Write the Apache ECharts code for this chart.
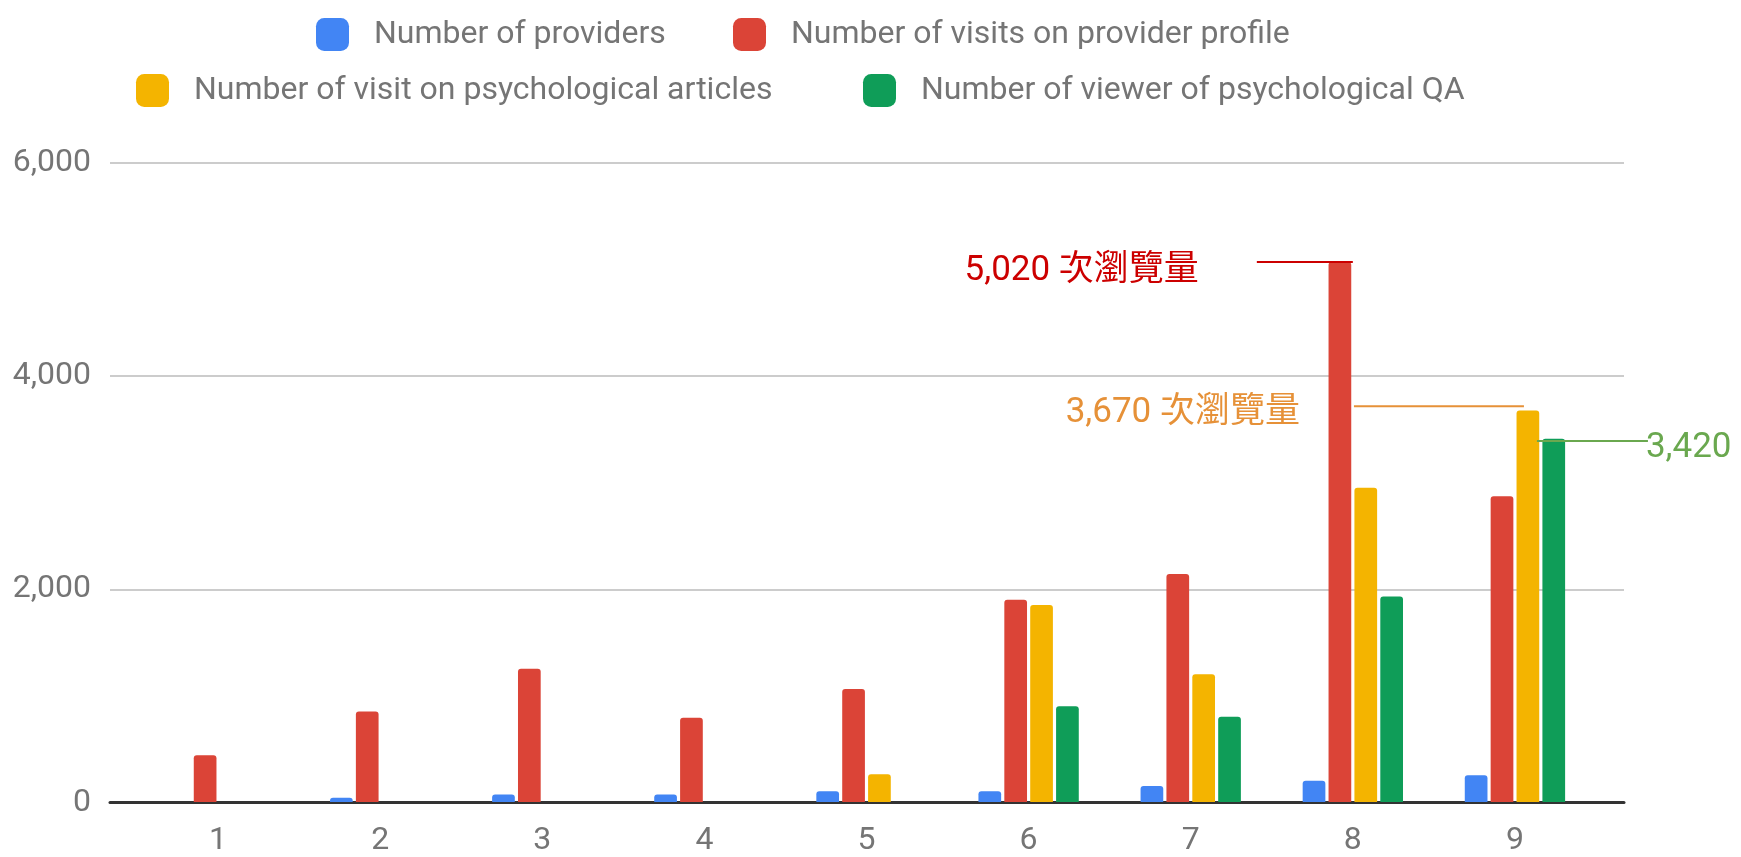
<!DOCTYPE html>
<html>
<head>
<meta http-equiv="Content-Type" content="text/html;charset=utf-8" />
<title>bar chart</title>
<script src="https://cdn.jsdelivr.net/npm/echarts@6/dist/echarts.min.js"></script>
<style>
  html, body { margin: 0; padding: 0; background: #fff; }
  #container { width: 1741px; height: 857px; }
</style>
</head>
<body>
<div id="container"></div>
<script type="text/javascript">
// data
var categories = ['1', '2', '3', '4', '5', '6', '7', '8', '9'];
var seriesNames = [
  'Number of providers',
  'Number of visits on provider profile',
  'Number of visit on psychological articles',
  'Number of viewer of psychological QA'
];
var providers = [0, 40, 70, 70, 100, 100, 150, 200, 250];
var profileVisits = [440, 850, 1250, 790, 1060, 1900, 2140, 5070, 2870];
var articleVisits = [0, 0, 0, 0, 260, 1850, 1200, 2950, 3675];
var qaViewers = [0, 0, 0, 0, 0, 900, 800, 1930, 3410];
var yTicks = [0, 2000, 4000, 6000];

var colors = ['#4285f4', '#db4437', '#f4b400', '#0f9d58'];
var textGray = '#757575';
var font = 'Roboto, "Noto Sans CJK TC", sans-serif';

var dom = document.getElementById('container');
var myChart = echarts.init(dom);

function makeBar(name, data, color) {
  return {
    name: name,
    type: 'bar',
    xAxisIndex: 1,
    yAxisIndex: 1,
    data: data,
    barWidth: 22.7,
    barGap: '14%',
    itemStyle: { color: color, borderRadius: [3, 3, 0, 0] },
    emphasis: { disabled: true }
  };
}

// one legend per item so each swatch sits where it does in the picture
function makeLegend(name, left, top) {
  return {
    data: [name],
    left: left,
    top: top,
    icon: 'roundRect',
    itemWidth: 33,
    itemHeight: 33,
    selectedMode: false,
    textStyle: {
      fontFamily: font,
      fontSize: 32,
      color: textGray,
      padding: [0, 0, 0, 20]
    }
  };
}

var option = {
  backgroundColor: '#fff',
  animation: false,
  color: colors,
  legend: [
    makeLegend(seriesNames[0], 311, 13),
    makeLegend(seriesNames[1], 728, 13),
    makeLegend(seriesNames[2], 131, 69),
    makeLegend(seriesNames[3], 858, 69)
  ],
  grid: [
    // full width grid for gridlines and baseline
    { left: 110, right: 117, top: 163, bottom: 54.5 },
    // narrower grid that holds the categories
    { left: 137, right: 145, top: 163, bottom: 54.5 }
  ],
  xAxis: [
    {
      gridIndex: 0,
      type: 'value',
      min: 0,
      max: 1,
      axisLine: { show: true, lineStyle: { color: '#333', width: 3 } },
      axisTick: { show: false },
      axisLabel: { show: false },
      splitLine: { show: false }
    },
    {
      gridIndex: 1,
      type: 'category',
      data: categories,
      axisLine: { show: false },
      axisTick: { show: false },
      axisLabel: {
        margin: 23,
        fontFamily: font,
        fontSize: 32,
        color: textGray
      }
    }
  ],
  yAxis: [
    {
      gridIndex: 0,
      type: 'value',
      min: yTicks[0],
      max: yTicks[yTicks.length - 1],
      interval: yTicks[1] - yTicks[0],
      axisLine: { show: false },
      axisTick: { show: false },
      axisLabel: {
        margin: 19,
        fontFamily: font,
        fontSize: 32,
        color: textGray,
        formatter: function (v) { return v.toLocaleString('en-US'); }
      },
      splitLine: { lineStyle: { color: '#cccccc', width: 2 } }
    },
    {
      gridIndex: 1,
      type: 'value',
      min: yTicks[0],
      max: yTicks[yTicks.length - 1],
      interval: yTicks[1] - yTicks[0],
      show: false,
      splitLine: { show: false }
    }
  ],
  series: [
    makeBar(seriesNames[0], providers, colors[0]),
    makeBar(seriesNames[1], profileVisits, colors[1]),
    makeBar(seriesNames[2], articleVisits, colors[2]),
    makeBar(seriesNames[3], qaViewers, colors[3])
  ]
};

myChart.setOption(option, true);

// hand-drawn style callouts, placed from the data values
var notes = [
  { cat: 7, value: profileVisits[7], x1: -96, x2: 0, text: '5,020 次瀏覽量', tx: -154, align: 'right', dy: 9, color: '#cc0000' },
  { cat: 8, value: articleVisits[8] + 40, x1: -161, x2: 9, text: '3,670 次瀏覽量', tx: -215, align: 'right', dy: 7, color: '#e69138' },
  { cat: 8, value: qaViewers[8] - 20, x1: 22, x2: 133, text: '3,420', tx: 131, align: 'left', dy: 7, color: '#6aa84f' }
];

var graphics = [];
notes.forEach(function (n) {
  var p = myChart.convertToPixel({ xAxisIndex: 1, yAxisIndex: 1 }, [n.cat, n.value]);
  graphics.push({
    type: 'line',
    shape: { x1: p[0] + n.x1, y1: p[1], x2: p[0] + n.x2, y2: p[1] },
    style: { stroke: n.color, lineWidth: 2 },
    z: 10
  });
  graphics.push({
    type: 'text',
    x: p[0] + n.tx,
    y: p[1] + n.dy,
    style: {
      text: n.text,
      fill: n.color,
      font: '35px ' + font,
      textAlign: n.align,
      textVerticalAlign: 'middle'
    },
    z: 10
  });
});

myChart.setOption({ graphic: graphics });
</script>
</body>
</html>
